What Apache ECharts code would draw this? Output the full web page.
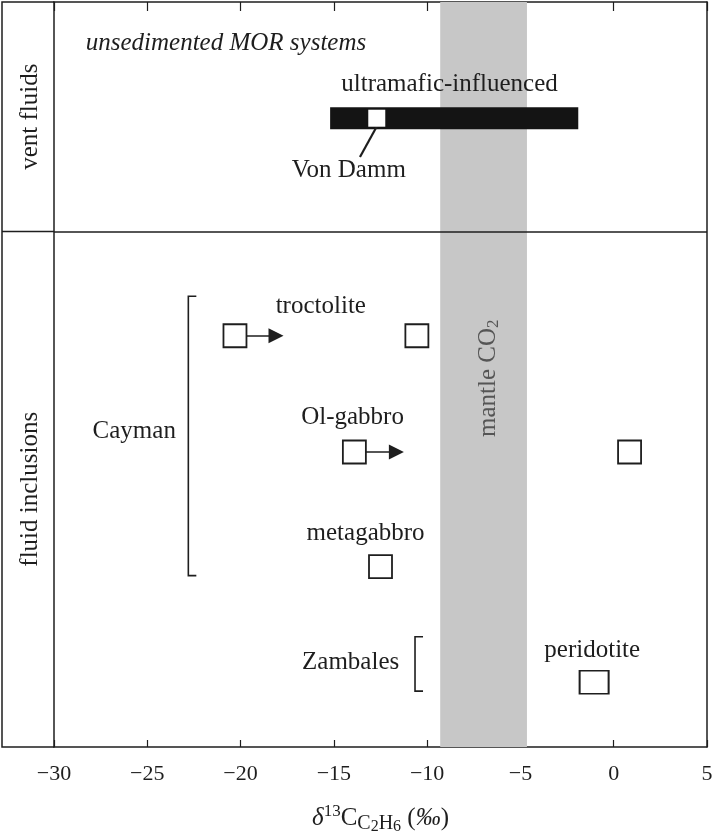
<!DOCTYPE html>
<html><head><meta charset="utf-8">
<script src="https://cdn.jsdelivr.net/npm/echarts@6/dist/echarts.min.js"></script>
<style>html,body{margin:0;padding:0;background:#fff}#c{width:714px;height:836px}</style>
</head><body><div id="c"></div>
<script>
// ---- data ----
const xTicks = [-30, -25, -20, -15, -10, -5, 0, 5];
const panelNames = ['vent fluids', 'fluid inclusions'];
const yRange = [0, 100];
const panelDivider = 69.2;
const mantleBand = [-9.3, -4.65];
const ventRange = [-15.2, -1.9];
const ventY = 84.4;
const vonDamm = [-12.7, 84.4];
const vonDammLeader = [[-12.7, 83.3], [-13.6, 79.2]];
const troctolite = [[-20.3, 55.2], [-10.55, 55.2]];
const olGabbro = [[-13.9, 39.6], [0.85, 39.6]];
const metagabbro = [[-12.5, 24.2]];
const peridotite = [[-1.05, 8.7]];
const arrows = [[-20.3, -18.1, 55.2], [-13.9, -11.65, 39.6]];
const brackets = [[-22.8, 60.5, 23.0], [-10.65, 14.8, 7.5]];
const annoText = ['unsedimented MOR systems', 'ultramafic-influenced', 'Von Damm', 'troctolite', 'Ol-gabbro', 'metagabbro', 'Cayman', 'Zambales', 'peridotite'];
const annoX = [-28.3, -8.8, -14.2, -15.7, -14.0, -13.3, -25.7, -14.1, -1.15];
const annoY = [94.5, 88.9, 77.4, 59.1, 44.2, 28.7, 42.3, 11.4, 13.0];
const mantleLabelY = 49.5;

const FONT = '"Liberation Serif", "Times New Roman", serif';
const INK = '#1e1e1e';

const chart = echarts.init(document.getElementById('c'));
const annoData = annoText.map((t, i) => [annoX[i], annoY[i], i]);

const option = {
  animation: false,
  grid: { left: 54, right: 7, top: 2, bottom: 89, containLabel: false, outerBoundsMode: 'none' },
  xAxis: [{
    type: 'value', min: xTicks[0], max: xTicks[xTicks.length - 1], interval: 5,
    position: 'bottom',
    axisLine: { show: true, onZero: false, lineStyle: { color: INK, width: 1.5 } },
    axisTick: { show: true, inside: true, length: 7, lineStyle: { color: INK, width: 1.2 } },
    axisLabel: { fontFamily: FONT, fontSize: 22, color: INK, margin: 16,
      formatter: v => (v < 0 ? '\u2212' + Math.abs(v) : String(v)) },
    splitLine: { show: false },
    name: '{d|δ}{sup|13}{n|C}{sub|C}{ss|2}{sub|H}{ss|6}{n| (}{it|‰}{n|)}',
    nameLocation: 'middle', nameGap: 54,
    nameTextStyle: {
      fontFamily: FONT, color: INK,
      rich: {
        d: { fontFamily: FONT, fontStyle: 'italic', fontSize: 25, color: INK },
        sup: { fontFamily: FONT, fontSize: 17, color: INK, padding: [0, 0, 13, 0] },
        n: { fontFamily: FONT, fontSize: 25, color: INK },
        it: { fontFamily: FONT, fontStyle: 'italic', fontSize: 25, color: INK },
        sub: { fontFamily: FONT, fontSize: 20, color: INK, padding: [11, 0, 0, 0] },
        ss: { fontFamily: FONT, fontSize: 16, color: INK, padding: [18, 0, 0, 0] }
      }
    }
  }, {
    type: 'value', min: xTicks[0], max: xTicks[xTicks.length - 1], interval: 5,
    position: 'top',
    axisLine: { show: true, onZero: false, lineStyle: { color: INK, width: 1.5 } },
    axisTick: { show: true, inside: true, length: 9, lineStyle: { color: INK, width: 1.2 } },
    axisLabel: { show: false }, splitLine: { show: false }
  }],
  yAxis: [{
    type: 'value', min: yRange[0], max: yRange[1], position: 'left',
    axisLine: { show: true, onZero: false, lineStyle: { color: INK, width: 1.5 } },
    axisTick: { show: false }, axisLabel: { show: false }, splitLine: { show: false }
  }, {
    type: 'value', min: yRange[0], max: yRange[1], position: 'right',
    axisLine: { show: true, onZero: false, lineStyle: { color: INK, width: 1.5 } },
    axisTick: { show: false }, axisLabel: { show: false }, splitLine: { show: false }
  }],
  series: [
    { // mantle CO2 band
      type: 'custom', z: 1, silent: true,
      data: [[mantleBand[0], mantleBand[1], mantleLabelY]],
      renderItem(params, api) {
        const a = api.coord([api.value(0), yRange[1]]);
        const b = api.coord([api.value(1), yRange[0]]);
        const c = api.coord([(api.value(0) + api.value(1)) / 2, api.value(2)]);
        return { type: 'group', children: [
          { type: 'rect', shape: { x: a[0], y: a[1], width: b[0] - a[0], height: b[1] - a[1] }, style: { fill: '#c7c7c7' } },
          { type: 'text', x: c[0] + 5, y: c[1], rotation: Math.PI / 2,
            style: { text: '{n|mantle CO}{s|2}', align: 'center', verticalAlign: 'middle',
              rich: { n: { fontFamily: FONT, fontSize: 25, fill: '#555' },
                      s: { fontFamily: FONT, fontSize: 17, fill: '#555', padding: [10, 0, 0, 0] } } } }
        ] };
      }
    },
    { // panel divider
      type: 'line', data: [], z: 3,
      markLine: { silent: true, symbol: 'none', label: { show: false },
        lineStyle: { color: INK, width: 1.5, type: 'solid' },
        data: [{ yAxis: panelDivider }] }
    },
    { // ultramafic-influenced bar
      type: 'custom', z: 4,
      data: [[ventRange[0], ventRange[1], ventY]],
      renderItem(params, api) {
        const p1 = api.coord([api.value(0), api.value(2)]);
        const p2 = api.coord([api.value(1), api.value(2)]);
        return { type: 'rect', shape: { x: p1[0], y: p1[1] - 11, width: p2[0] - p1[0], height: 22 }, style: { fill: '#141414' } };
      }
    },
    { // Von Damm
      type: 'scatter', z: 5, symbol: 'rect', symbolSize: 17,
      itemStyle: { color: '#fff', borderWidth: 0, opacity: 1 }, data: [vonDamm]
    },
    { // leader line
      type: 'line', z: 5, symbol: 'none', data: vonDammLeader,
      lineStyle: { color: INK, width: 2.2 }
    },
    { // arrows
      type: 'lines', coordinateSystem: 'cartesian2d', z: 5,
      symbol: ['none', 'triangle'], symbolSize: [8, 15],
      lineStyle: { color: INK, width: 1.5, opacity: 1 },
      data: arrows.map(a => ({ coords: [[a[0], a[2]], [a[1], a[2]]] }))
    },
    { // squares
      type: 'scatter', z: 6, symbol: 'rect', symbolSize: 23,
      itemStyle: { color: '#fff', borderColor: INK, borderWidth: 1.8, opacity: 1 },
      data: troctolite.concat(olGabbro, metagabbro)
    },
    { // peridotite
      type: 'scatter', z: 6, symbol: 'rect', symbolSize: [29, 23],
      itemStyle: { color: '#fff', borderColor: INK, borderWidth: 1.8, opacity: 1 },
      data: peridotite
    },
    { // brackets
      type: 'custom', z: 5, data: brackets,
      renderItem(params, api) {
        const t = api.coord([api.value(0), api.value(1)]);
        const b = api.coord([api.value(0), api.value(2)]);
        return { type: 'polyline', shape: { points: [[t[0] + 8, t[1]], [t[0], t[1]], [b[0], b[1]], [b[0] + 8, b[1]]] },
          style: { stroke: INK, lineWidth: 1.6, fill: null } };
      }
    },
    { // annotations
      type: 'custom', z: 7, data: annoData,
      renderItem(params, api) {
        const i = api.value(2);
        const p = api.coord([api.value(0), api.value(1)]);
        const italic = i === 0;
        return { type: 'text', x: p[0], y: p[1],
          style: { text: annoText[i], fill: INK, align: italic ? 'left' : 'center', verticalAlign: 'middle',
            font: (italic ? 'italic ' : '') + '25px ' + FONT } };
      }
    }
  ]
};
chart.setOption(option);

// left column frame and panel labels
const yDiv = chart.convertToPixel({ yAxisIndex: 0 }, panelDivider);
const yTop = chart.convertToPixel({ yAxisIndex: 0 }, yRange[1]);
const yBot = chart.convertToPixel({ yAxisIndex: 0 }, yRange[0]);
const xL = chart.convertToPixel({ xAxisIndex: 0 }, xTicks[0]);
chart.setOption({
  graphic: [
    { type: 'polyline', z: 10, shape: { points: [[xL, yTop], [2, yTop], [2, yBot], [xL, yBot]] }, style: { stroke: INK, lineWidth: 1.5, fill: null } },
    { type: 'line', z: 10, shape: { x1: 2, y1: yDiv, x2: xL, y2: yDiv }, style: { stroke: INK, lineWidth: 1.5 } },
    { type: 'text', z: 10, x: 30, y: (yTop + yDiv) / 2, rotation: Math.PI / 2,
      style: { text: panelNames[0], font: '25px ' + FONT, fill: INK, align: 'center', verticalAlign: 'middle' } },
    { type: 'text', z: 10, x: 30, y: (yDiv + yBot) / 2, rotation: Math.PI / 2,
      style: { text: panelNames[1], font: '25px ' + FONT, fill: INK, align: 'center', verticalAlign: 'middle' } }
  ]
});
</script></body></html>
